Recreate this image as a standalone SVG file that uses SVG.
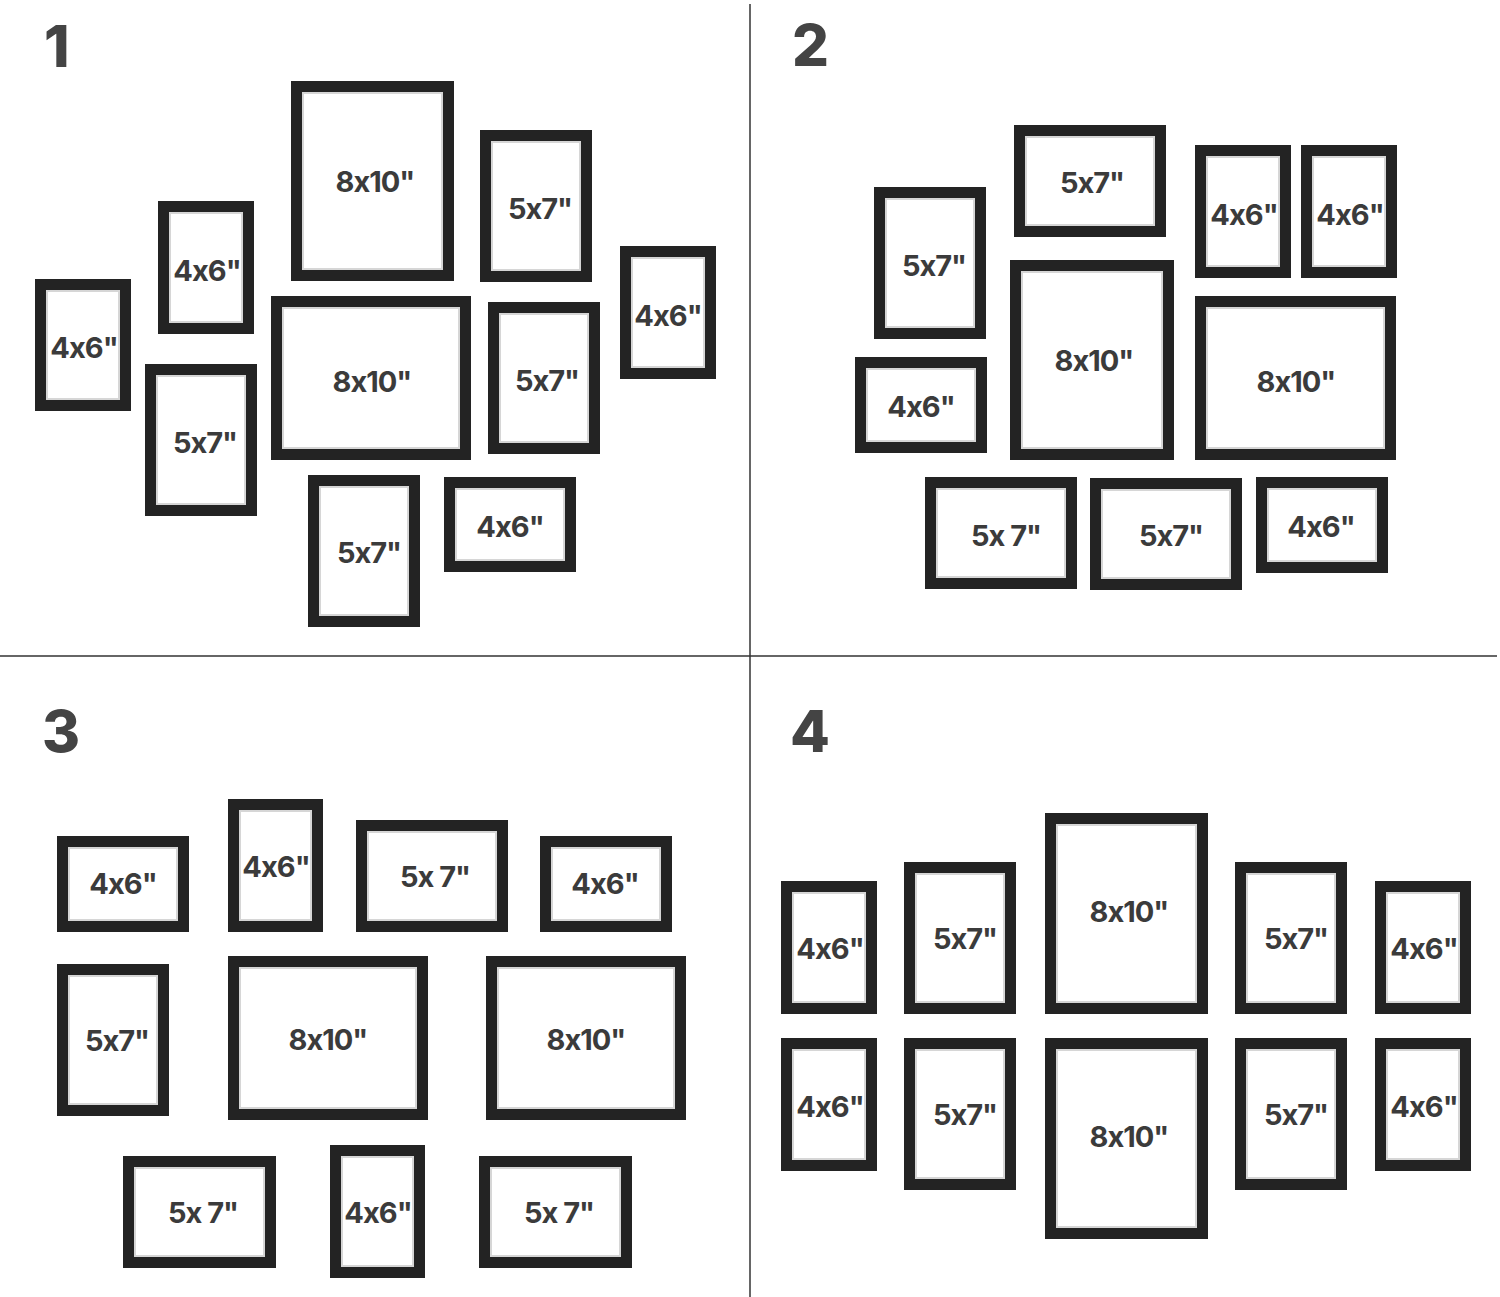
<svg xmlns="http://www.w3.org/2000/svg" width="1500" height="1297" viewBox="0 0 1500 1297">
<style>
.f{fill:#232323}
.m{fill:#fff;stroke:#d6d6d6;stroke-width:2}
.l{font-family:Inter,"Open Sans","Liberation Sans",sans-serif;font-weight:700;font-size:29px;letter-spacing:-1px;fill:#3b3b3b;text-anchor:middle;font-feature-settings:"calt" 0;font-variant-ligatures:none}
.n{font-family:Inter,"Open Sans","Liberation Sans",sans-serif;font-weight:800;font-size:58px;fill:#444}
.d{stroke:#333;stroke-width:1.5}
</style>
<rect width="1500" height="1297" fill="#fff"/>
<g id="dividers">
<line class="d" x1="750" y1="4" x2="750" y2="1297"/>
<line class="d" x1="0" y1="656" x2="1497" y2="656"/>
</g>
<g id="numbers">
<text class="n" x="44" y="67">1</text>
<text class="n" x="792" y="66">2</text>
<text class="n" x="42" y="752">3</text>
<text class="n" x="790" y="752">4</text>
</g>
<!-- Panel 1 -->
<g id="p1-a"><rect class="f" x="35" y="279" width="96" height="132"/><rect class="m" x="47" y="291" width="72" height="108"/><text class="l" x="84" y="358">4x6"</text></g>
<g id="p1-b"><rect class="f" x="158" y="201" width="96" height="133"/><rect class="m" x="170" y="213" width="72" height="109"/><text class="l" x="207" y="281">4x6"</text></g>
<g id="p1-c"><rect class="f" x="145" y="364" width="112" height="152"/><rect class="m" x="157" y="376" width="88" height="128"/><text class="l" x="205" y="453">5x7"</text></g>
<g id="p1-d"><rect class="f" x="291" y="81" width="163" height="200"/><rect class="m" x="303" y="93" width="139" height="176"/><text class="l" x="375" y="192">8x10"</text></g>
<g id="p1-e"><rect class="f" x="271" y="296" width="200" height="164"/><rect class="m" x="283" y="308" width="176" height="140"/><text class="l" x="372" y="392">8x10"</text></g>
<g id="p1-f"><rect class="f" x="480" y="130" width="112" height="152"/><rect class="m" x="492" y="142" width="88" height="128"/><text class="l" x="540" y="219">5x7"</text></g>
<g id="p1-g"><rect class="f" x="488" y="302" width="112" height="152"/><rect class="m" x="500" y="314" width="88" height="128"/><text class="l" x="547" y="391">5x7"</text></g>
<g id="p1-h"><rect class="f" x="620" y="246" width="96" height="133"/><rect class="m" x="632" y="258" width="72" height="109"/><text class="l" x="668" y="326">4x6"</text></g>
<g id="p1-i"><rect class="f" x="308" y="475" width="112" height="152"/><rect class="m" x="320" y="487" width="88" height="128"/><text class="l" x="369" y="563">5x7"</text></g>
<g id="p1-j"><rect class="f" x="444" y="477" width="132" height="95"/><rect class="m" x="456" y="489" width="108" height="71"/><text class="l" x="510" y="537">4x6"</text></g>
<!-- Panel 2 -->
<g id="p2-a"><rect class="f" x="874" y="187" width="112" height="152"/><rect class="m" x="886" y="199" width="88" height="128"/><text class="l" x="934" y="276">5x7"</text></g>
<g id="p2-b"><rect class="f" x="1014" y="125" width="152" height="112"/><rect class="m" x="1026" y="137" width="128" height="88"/><text class="l" x="1092" y="193">5x7"</text></g>
<g id="p2-c"><rect class="f" x="1195" y="145" width="96" height="133"/><rect class="m" x="1207" y="157" width="72" height="109"/><text class="l" x="1244" y="225">4x6"</text></g>
<g id="p2-d"><rect class="f" x="1301" y="145" width="96" height="133"/><rect class="m" x="1313" y="157" width="72" height="109"/><text class="l" x="1350" y="225">4x6"</text></g>
<g id="p2-e"><rect class="f" x="855" y="357" width="132" height="96"/><rect class="m" x="867" y="369" width="108" height="72"/><text class="l" x="921" y="417">4x6"</text></g>
<g id="p2-f"><rect class="f" x="1010" y="260" width="164" height="200"/><rect class="m" x="1022" y="272" width="140" height="176"/><text class="l" x="1094" y="371">8x10"</text></g>
<g id="p2-g"><rect class="f" x="1195" y="296" width="201" height="164"/><rect class="m" x="1207" y="308" width="177" height="140"/><text class="l" x="1296" y="392">8x10"</text></g>
<g id="p2-h"><rect class="f" x="925" y="477" width="152" height="112"/><rect class="m" x="937" y="489" width="128" height="88"/><text class="l" x="1006" y="546">5x 7"</text></g>
<g id="p2-i"><rect class="f" x="1090" y="478" width="152" height="112"/><rect class="m" x="1102" y="490" width="128" height="88"/><text class="l" x="1171" y="546">5x7"</text></g>
<g id="p2-j"><rect class="f" x="1256" y="477" width="132" height="96"/><rect class="m" x="1268" y="489" width="108" height="72"/><text class="l" x="1321" y="537">4x6"</text></g>
<!-- Panel 3 -->
<g id="p3-a"><rect class="f" x="57" y="836" width="132" height="96"/><rect class="m" x="69" y="848" width="108" height="72"/><text class="l" x="123" y="894">4x6"</text></g>
<g id="p3-b"><rect class="f" x="228" y="799" width="95" height="133"/><rect class="m" x="240" y="811" width="71" height="109"/><text class="l" x="276" y="877">4x6"</text></g>
<g id="p3-c"><rect class="f" x="356" y="820" width="152" height="112"/><rect class="m" x="368" y="832" width="128" height="88"/><text class="l" x="435" y="887">5x 7"</text></g>
<g id="p3-d"><rect class="f" x="540" y="836" width="132" height="96"/><rect class="m" x="552" y="848" width="108" height="72"/><text class="l" x="605" y="894">4x6"</text></g>
<g id="p3-e"><rect class="f" x="57" y="964" width="112" height="152"/><rect class="m" x="69" y="976" width="88" height="128"/><text class="l" x="117" y="1051">5x7"</text></g>
<g id="p3-f"><rect class="f" x="228" y="956" width="200" height="164"/><rect class="m" x="240" y="968" width="176" height="140"/><text class="l" x="328" y="1050">8x10"</text></g>
<g id="p3-g"><rect class="f" x="486" y="956" width="200" height="164"/><rect class="m" x="498" y="968" width="176" height="140"/><text class="l" x="586" y="1050">8x10"</text></g>
<g id="p3-h"><rect class="f" x="123" y="1156" width="153" height="112"/><rect class="m" x="135" y="1168" width="129" height="88"/><text class="l" x="203" y="1223">5x 7"</text></g>
<g id="p3-i"><rect class="f" x="330" y="1145" width="95" height="133"/><rect class="m" x="342" y="1157" width="71" height="109"/><text class="l" x="378" y="1223">4x6"</text></g>
<g id="p3-j"><rect class="f" x="479" y="1156" width="153" height="112"/><rect class="m" x="491" y="1168" width="129" height="88"/><text class="l" x="559" y="1223">5x 7"</text></g>
<!-- Panel 4 -->
<g id="p4-a"><rect class="f" x="781" y="881" width="96" height="133"/><rect class="m" x="793" y="893" width="72" height="109"/><text class="l" x="830" y="959">4x6"</text></g>
<g id="p4-b"><rect class="f" x="904" y="862" width="112" height="152"/><rect class="m" x="916" y="874" width="88" height="128"/><text class="l" x="965" y="949">5x7"</text></g>
<g id="p4-c"><rect class="f" x="1045" y="813" width="163" height="201"/><rect class="m" x="1057" y="825" width="139" height="177"/><text class="l" x="1129" y="922">8x10"</text></g>
<g id="p4-d"><rect class="f" x="1235" y="862" width="112" height="152"/><rect class="m" x="1247" y="874" width="88" height="128"/><text class="l" x="1296" y="949">5x7"</text></g>
<g id="p4-e"><rect class="f" x="1375" y="881" width="96" height="133"/><rect class="m" x="1387" y="893" width="72" height="109"/><text class="l" x="1424" y="959">4x6"</text></g>
<g id="p4-f"><rect class="f" x="781" y="1038" width="96" height="133"/><rect class="m" x="793" y="1050" width="72" height="109"/><text class="l" x="830" y="1117">4x6"</text></g>
<g id="p4-g"><rect class="f" x="904" y="1038" width="112" height="152"/><rect class="m" x="916" y="1050" width="88" height="128"/><text class="l" x="965" y="1125">5x7"</text></g>
<g id="p4-h"><rect class="f" x="1045" y="1038" width="163" height="201"/><rect class="m" x="1057" y="1050" width="139" height="177"/><text class="l" x="1129" y="1147">8x10"</text></g>
<g id="p4-i"><rect class="f" x="1235" y="1038" width="112" height="152"/><rect class="m" x="1247" y="1050" width="88" height="128"/><text class="l" x="1296" y="1125">5x7"</text></g>
<g id="p4-j"><rect class="f" x="1375" y="1038" width="96" height="133"/><rect class="m" x="1387" y="1050" width="72" height="109"/><text class="l" x="1424" y="1117">4x6"</text></g>
</svg>
